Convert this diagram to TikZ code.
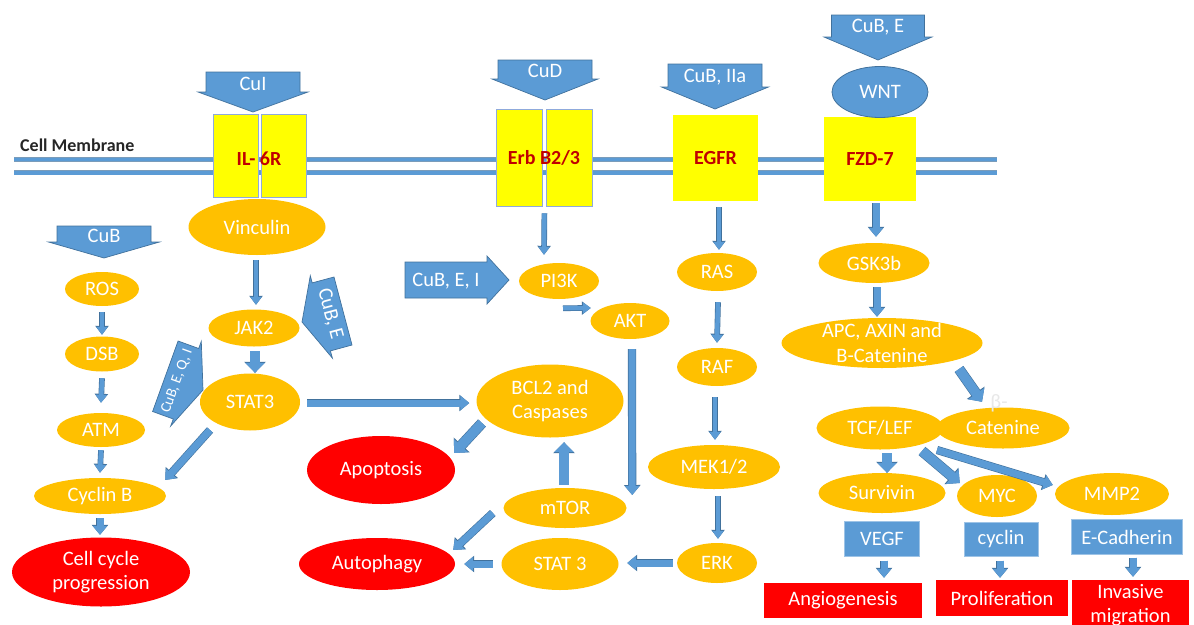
\documentclass[tikz,border=0pt]{standalone}
\usepackage{fontspec}
\setmainfont{Carlito}
\usetikzlibrary{shapes.geometric,arrows.meta}
\definecolor{orng}{HTML}{FFC000}
\definecolor{bluf}{HTML}{5B9BD5}
\definecolor{blud}{HTML}{41719C}
\definecolor{redf}{HTML}{FF0000}
\definecolor{yelf}{HTML}{FFFF00}
\definecolor{dred}{HTML}{C00000}
\definecolor{ybord}{HTML}{8FAADC}
\definecolor{bbord}{HTML}{9DC3E6}
\definecolor{memtxt}{HTML}{262626}
\newcommand{\cudown}[8]{%
 \draw[cushape] ({#2-#4},#3) -- ({#2+#4},#3) -- ({#2+#4},#5) -- ({#2+#6},#5) -- (#2,#7) -- ({#2-#6},#5) -- ({#2-#4},#5) -- cycle;
 \node[cutext] (#1) at (#2,{(#3+#5)/2+1.5}) {#8};}
\begin{document}
\begin{tikzpicture}[x=1pt,y=-1pt,font=\fontsize{20.5}{24.5}\selectfont,
 wh/.style 2 args={minimum width=#1pt,minimum height=#2pt},
 ell/.style={ellipse,fill=orng,text=white,inner sep=-12pt,align=center},
 redell/.style={ellipse,fill=redf,text=white,inner sep=-12pt,align=center},
 yelbox/.style={rectangle,fill=yelf,draw=ybord,line width=0.8pt,inner sep=0pt},
 bluebox/.style={rectangle,fill=bluf,draw=bbord,line width=1pt,text=white,inner sep=0pt},
 redbox/.style={rectangle,fill=redf,text=white,inner sep=0pt,align=center},
 cushape/.style={fill=bluf,draw=blud,line width=0.7pt},
 cutext/.style={text=white,inner sep=0pt},
 reclabel/.style={text=dred,font=\fontsize{20}{24}\selectfont\bfseries,inner sep=0pt},
 arrA/.style={draw=bluf,line width=4.5pt,-{Triangle[width=11pt,length=8pt]},
   preaction={draw=blud,line width=5.7pt,-{Triangle[width=13pt,length=9pt]}}},
 arrB/.style={draw=bluf,line width=7pt,-{Triangle[width=14pt,length=9pt]},
   preaction={draw=blud,line width=8.2pt,-{Triangle[width=16pt,length=10pt]}}},
 arrC/.style={draw=bluf,line width=9.5pt,-{Triangle[width=19pt,length=10pt]},
   preaction={draw=blud,line width=10.7pt,-{Triangle[width=21pt,length=11pt]}}}]
\useasboundingbox (0,0) rectangle (1194,624);
\clip (0,0) rectangle (1194,624);
% membrane
\draw[blud!70,line width=5pt] (14,159.5) -- (997,159.5);
\draw[blud!70,line width=5pt] (14,172.8) -- (997,172.8);
\draw[bluf,line width=3.8pt] (14,159.5) -- (997,159.5);
\draw[bluf,line width=3.8pt] (14,172.8) -- (997,172.8);
\node[anchor=base west,text=memtxt,font=\fontsize{18}{21}\selectfont\bfseries,inner sep=0pt] (memlbl) at (20,151) {Cell Membrane};
% receptors
\node[yelbox,wh={45}{83}] (il6rL) at (235.5,155.5) {};
\node[yelbox,wh={45}{83}] (il6rR) at (283.5,155.5) {};
\node[reclabel] (il6r) at (259,159) {IL- 6R};
\node[yelbox,wh={46}{97}] (erbL) at (519,157.5) {};
\node[yelbox,wh={46}{97}] (erbR) at (569,157.5) {};
\node[reclabel] (erb) at (544,158) {Erb B2/3};
\node[yelbox,draw=none,wh={85}{86},text=dred,font=\fontsize{20}{24}\selectfont\bfseries] (egfr) at (715.5,158) {EGFR};
\node[yelbox,draw=none,wh={92}{84},text=dred,font=\fontsize{20}{24}\selectfont\bfseries] (fzd) at (870,159) {FZD-7};
% drug arrows
\cudown{cui}{253}{72}{47}{92}{55}{112}{CuI}
\cudown{cubl}{104}{226}{47}{242}{55.5}{258}{CuB}
\cudown{cud}{545}{60}{47}{79}{53}{100}{CuD}
\cudown{cubiia}{715}{64}{47}{87}{53.5}{109}{CuB, IIa}
\cudown{cubetop}{878}{15}{46.5}{37}{54}{60}{CuB, E}
\draw[cushape] (334,277) -- (352,345) -- (330.4,350.9) -- (332.4,358.1) -- (302,322) -- (310.3,275.7) -- (312.2,282.9) -- cycle;
\node[cutext,rotate=-75] (cubejak) at (330,314) {CuB, E};
\draw[cushape] (178.1,341) -- (198.7,348.5) -- (201.3,341.4) -- (203,390) -- (170.7,426) -- (173.3,419) -- (152.6,411.5) -- cycle;
\node[cutext,rotate=70,font=\fontsize{15}{18}\selectfont] (cubeqi) at (177,381) {CuB, E, Q, I};
\draw[cushape] (405,262) -- (487,262) -- (487,256) -- (509,280) -- (487,304) -- (487,298) -- (405,298) -- cycle;
\node[cutext] (cubei) at (446,281) {CuB, E, I};
\node[ellipse,fill=bluf,draw=blud,line width=0.8pt,text=white,inner sep=-12pt,wh={96}{51}] (wnt) at (880,92) {WNT};
% left column
\node[ell,wh={137}{56}] (vinc) at (257,227) {Vinculin};
\node[ell,wh={74}{34}] (ros) at (102,289) {ROS};
\node[ell,wh={74}{35}] (dsb) at (102,354) {DSB};
\node[ell,wh={88}{34}] (atm) at (101,430) {ATM};
\node[ell,wh={132}{36}] (cycb) at (100,496) {Cyclin B};
\node[redell,wh={178}{69}] (cell) at (101,572) {Cell cycle\\progression};
\node[ell,wh={91}{37}] (jak2) at (254,328) {JAK2};
\node[ell,wh={100}{57}] (stat3) at (250,402) {STAT3};
% middle
\node[ell,wh={80}{36}] (pi3k) at (559,281) {PI3K};
\node[ell,wh={79}{36}] (akt) at (630,321) {AKT};
\node[ell,wh={147}{73}] (bcl2) at (550,401) {BCL2 and\\Caspases};
\node[redell,wh={148}{68}] (apop) at (381,470) {Apoptosis};
\node[ell,wh={123}{40}] (mtor) at (565,508) {mTOR};
\node[ell,wh={117}{52}] (stat3b) at (560,564) {STAT 3};
\node[redell,wh={156}{52}] (autoph) at (377,564) {Autophagy};
\node[ell,wh={80}{38}] (ras) at (717,272) {RAS};
\node[ell,wh={80}{38}] (raf) at (717,367) {RAF};
\node[ell,wh={132}{44}] (mek) at (714,467) {MEK1/2};
\node[ell,wh={80}{40}] (erk) at (717,563) {ERK};
% right
\node[ell,wh={111}{40}] (gsk) at (874,263) {GSK3b};
\node[ell,wh={201}{50}] (apc) at (882,343) {APC, AXIN and\\B-Catenine};
\node[ell,wh={133}{41}] (caten) at (1003,428) {Catenine};
\node[text=gray!18,inner sep=0pt] (beta) at (999,403) {β-};
\node[ell,wh={127}{43}] (tcf) at (880,428) {TCF/LEF};
\node[ell,wh={127}{40}] (surv) at (882,493) {Survivin};
\node[ell,wh={80}{42}] (myc) at (997,496) {MYC};
\node[ell,wh={114}{42}] (mmp2) at (1112,494) {MMP2};
\node[bluebox,wh={75}{35}] (vegf) at (882,539) {VEGF};
\node[bluebox,wh={74}{34}] (cyclin) at (1001,539) {cyclin};
\node[bluebox,wh={111}{35}] (ecad) at (1127,537) {E-Cadherin};
\node[redbox,wh={158}{35}] (angio) at (843,600) {Angiogenesis};
\node[redbox,wh={132}{36}] (prolif) at (1002,598) {Proliferation};
\node[redbox,wh={117}{50}] (invas) at (1130.5,605) {Invasive\\migration};
% connectors
\draw[arrA] ([yshift=-6pt]ros.south) -- ([yshift=1.5pt]dsb.north);
\draw[arrA] ([yshift=-6.5pt]dsb.south) -- ([yshift=10pt]atm.north);
\draw[arrA] ([yshift=-3pt]atm.south) -- ([yshift=5pt]cycb.north);
\draw[arrB] ([yshift=-4pt]cycb.south) -- ([xshift=-1pt,yshift=2.5pt]cell.north);
\draw[arrA] ([xshift=-1pt,yshift=-5pt]vinc.south) -- ([xshift=2pt,yshift=4.5pt]jak2.north);
\draw[arrC] ([xshift=1pt,yshift=-4.5pt]jak2.south) -- ([xshift=5pt,yshift=0.5pt]stat3.north);
\draw[arrB] ([xshift=-40pt,yshift=-28pt]stat3.center) -- ([xshift=-1pt,yshift=16pt]cycb.east);
\draw[arrB] ([xshift=7pt,yshift=-1pt]stat3.east) -- ([xshift=-7pt,yshift=-2pt]bcl2.west);
\draw[arrC] ([xshift=-68pt,yshift=-22pt]bcl2.center) -- ([xshift=-1pt,yshift=17pt]apop.east);
\draw[arrC] ([xshift=-1pt,yshift=3pt]mtor.north) -- ([xshift=14pt,yshift=-4.5pt]bcl2.south);
\draw[arrB] ([xshift=2pt,yshift=-10pt]akt.south) -- ([xshift=5.5pt,yshift=13pt]mtor.east);
\draw[arrB] ([xshift=-10.5pt,yshift=-5pt]mtor.west) -- ([xshift=-2pt,yshift=14pt]autoph.east);
\draw[arrB] ([xshift=-4pt]erk.west) -- ([xshift=8.5pt,yshift=1pt]stat3b.east);
\draw[arrB] ([xshift=-8.5pt]stat3b.west) -- ([xshift=9pt]autoph.east);
\draw[arrA] ([xshift=2pt,yshift=-7pt]erbL.south east) -- ([xshift=-15pt,yshift=8pt]pi3k.north);
\draw[arrA] ([xshift=4pt,yshift=-9pt]pi3k.south) -- ([xshift=0.5pt,yshift=13pt]akt.west);
\draw[arrA] ([xshift=3.5pt,yshift=-6pt]egfr.south) -- ([xshift=2pt,yshift=3pt]ras.north);
\draw[arrA] ([xshift=1pt,yshift=-11pt]ras.south) -- ([yshift=5pt]raf.north);
\draw[arrA] ([xshift=-2pt,yshift=-11pt]raf.south) -- ([xshift=1pt,yshift=5pt]mek.north);
\draw[arrA] ([xshift=4pt,yshift=-7pt]mek.south) -- ([xshift=1pt,yshift=4pt]erk.north);
\draw[arrB] ([xshift=6pt,yshift=-2pt]fzd.south) -- ([xshift=2pt,yshift=6pt]gsk.north);
\draw[arrB] ([xshift=3pt,yshift=-4pt]gsk.south) -- ([xshift=-5pt,yshift=1pt]apc.north);
\draw[arrC] ([xshift=77pt,yshift=-26pt]apc.center) -- ([xshift=-21pt,yshift=5.5pt]caten.north);
\draw[arrC] ([xshift=7pt,yshift=-3.5pt]tcf.south) -- ([xshift=5pt]surv.north);
\draw[arrC] ([xshift=42pt,yshift=-23pt]tcf.center) -- ([xshift=3pt,yshift=13pt]myc.west);
\draw[arrB] ([xshift=57pt,yshift=-22pt]tcf.center) -- ([xshift=-2pt,yshift=9pt]mmp2.west);
\draw[arrB] ([xshift=2pt,yshift=-3.5pt]vegf.south) -- ([xshift=41pt,yshift=4.5pt]angio.north);
\draw[arrB] ([xshift=-1pt,yshift=-4pt]cyclin.south) -- ([xshift=-2pt,yshift=2pt]prolif.north);
\draw[arrB] ([xshift=6pt,yshift=-2.5pt]ecad.south) -- ([xshift=2.5pt,yshift=3pt]invas.north);
\end{tikzpicture}
\end{document}
